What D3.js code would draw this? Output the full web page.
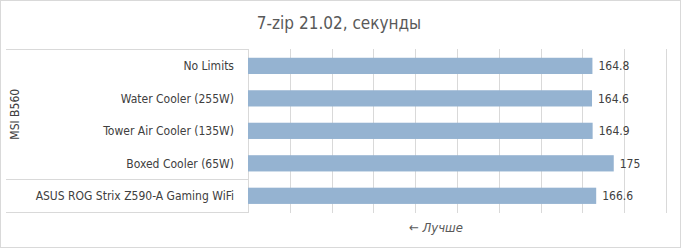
<!DOCTYPE html>
<html><head><meta charset="utf-8">
<script src="https://cdn.jsdelivr.net/npm/d3@7"></script>
<style>
html,body{margin:0;padding:0;background:#fff;}
svg{display:block;}
text{font-family:"DejaVu Sans Condensed","DejaVu Sans",sans-serif;}
</style></head>
<body><svg id="chart" width="681" height="248"></svg>
<script>
const title = "7-zip 21.02, секунды";
const categories = ["No Limits","Water Cooler (255W)","Tower Air Cooler (135W)","Boxed Cooler (65W)","ASUS ROG Strix Z590-A Gaming WiFi"];
const groupOf = ["MSI B560","MSI B560","MSI B560","MSI B560",""];
const values = [164.8,164.6,164.9,175,166.6];
const valueLabels = ["164.8","164.6","164.9","175","166.6"];
const xTicks = [0,20,40,60,80,100,120,140,160,180,200];
const groups = ["MSI B560","ASUS"];
const axisNote = "← Лучше";

(function(){
const svg = d3.select("#chart");
const W = 681, H = 248;
const mLeft = 248, mRight = 666, mTop = 49, mBottom = 212.7;
const gridColor = "#d9d9d9";

svg.append("rect").attr("x",0.5).attr("y",0.5).attr("width",W-1).attr("height",H-1)
  .attr("fill","#fff").attr("stroke","#d9d9d9");

svg.append("text").attr("x",339).attr("y",29).attr("text-anchor","middle")
  .attr("font-size",17).attr("fill","#595959").text(title);

const x = d3.scaleLinear().domain([0,200]).range([mLeft,mRight]);
const y = d3.scaleBand().domain(categories).range([mTop,mBottom]).paddingInner(0.5).paddingOuter(0.27);

const gx = svg.append("g").attr("transform",`translate(0,${mBottom})`)
  .call(d3.axisBottom(x).tickValues(xTicks).tickSize(-(mBottom-mTop)).tickFormat(""));
gx.select(".domain").remove();
gx.selectAll(".tick line").attr("stroke",gridColor).attr("shape-rendering","crispEdges");

const lines = svg.append("g").attr("stroke",gridColor).attr("shape-rendering","crispEdges");
const sepY = y(categories[4]) - y.step()*y.paddingInner()/2;
[mTop, sepY, mBottom].forEach(v=>{
  lines.append("line").attr("x1",6).attr("x2",mLeft).attr("y1",v).attr("y2",v);
});
lines.append("line").attr("x1",mLeft).attr("x2",mLeft).attr("y1",mTop).attr("y2",mBottom);

svg.append("g").selectAll("rect").data(values).join("rect")
  .attr("x",x(0)).attr("y",(d,i)=>y(categories[i]))
  .attr("width",d=>x(d)-x(0)).attr("height",y.bandwidth())
  .attr("fill","#95b3d1");

svg.append("g").selectAll("text").data(values).join("text")
  .attr("x",d=>x(d)+6).attr("y",(d,i)=>y(categories[i])+y.bandwidth()/2)
  .attr("dy","0.35em").attr("font-size",12).attr("fill","#404040")
  .text((d,i)=>valueLabels[i]);

svg.append("g").selectAll("text").data(categories).join("text")
  .attr("x",234).attr("y",d=>y(d)+y.bandwidth()/2).attr("dy","0.35em")
  .attr("text-anchor","end").attr("font-size",12).attr("fill","#404040").text(d=>d);

svg.append("text").attr("transform",`translate(19,${(mTop+sepY)/2}) rotate(-90)`)
  .attr("text-anchor","middle").attr("font-size",12).attr("fill","#404040").text(groups[0]);

svg.append("text").attr("x",436).attr("y",232).attr("text-anchor","middle")
  .attr("font-size",13).attr("font-style","italic").attr("fill","#595959").text(axisNote);
})();
</script></body></html>
